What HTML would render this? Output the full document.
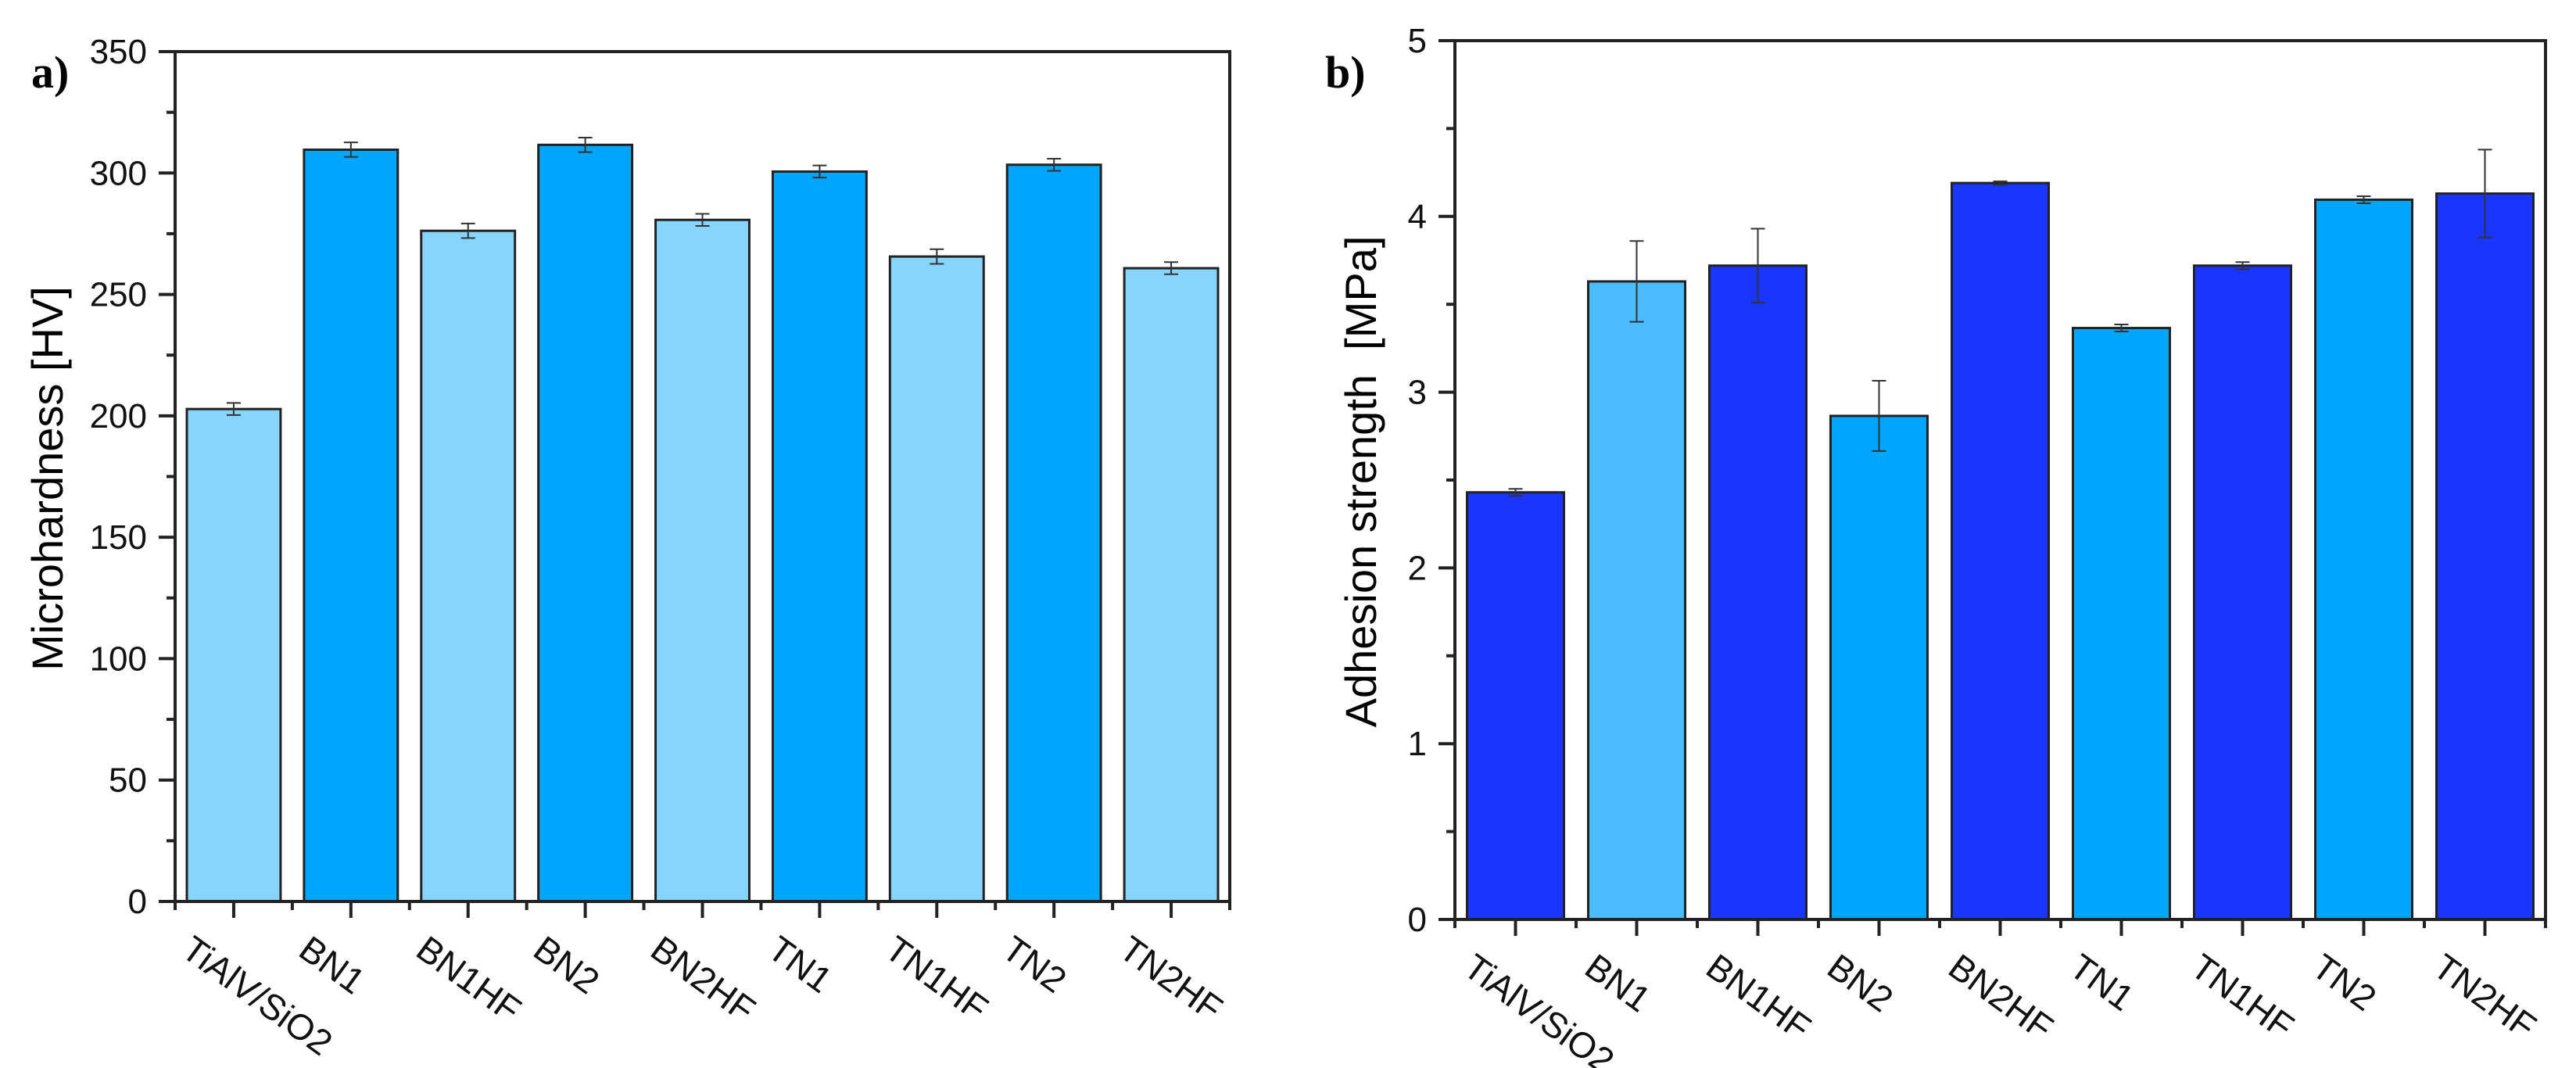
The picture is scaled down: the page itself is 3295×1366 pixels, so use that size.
<!DOCTYPE html>
<html><head><meta charset="utf-8"><style>
html,body{margin:0;padding:0;background:#fff;}
svg{display:block;font-family:"Liberation Sans",Arial,sans-serif;}
</style></head><body>
<svg id="fig" width="3295" height="1366" viewBox="0 0 3295 1366">
<text x="40" y="112" font-family="Liberation Serif" font-weight="bold" font-size="58">a)</text>
<text x="1695" y="112" font-family="Liberation Serif" font-weight="bold" font-size="58">b)</text>
<text transform="translate(80,612) rotate(-90)" text-anchor="middle" font-size="56">Microhardness [HV]</text>
<text transform="translate(1760,616) rotate(-90)" text-anchor="middle" font-size="56" xml:space="preserve">Adhesion strength  [MPa]</text>
<g id="chartA"></g>
<g id="chartB"></g>
</svg>
<script>
const categories = ["TiAlV/SiO2","BN1","BN1HF","BN2","BN2HF","TN1","TN1HF","TN2","TN2HF"];
const hardnessValues = [202.8, 309.6, 276.2, 311.6, 280.7, 300.6, 265.6, 303.4, 260.8];
const hardnessErrors = [2.5, 3, 3, 3, 2.5, 2.5, 3, 2.5, 2.5];
const hardnessTicks = [0, 50, 100, 150, 200, 250, 300, 350];
const adhesionValues = [2.43, 3.63, 3.72, 2.865, 4.19, 3.365, 3.72, 4.095, 4.13];
const adhesionErrors = [0.02, 0.23, 0.21, 0.2, 0.01, 0.02, 0.02, 0.02, 0.25];
const adhesionTicks = [0, 1, 2, 3, 4, 5];
const hardnessColors = ["#87d5fd","#00a5fd","#87d5fd","#00a5fd","#87d5fd","#00a5fd","#87d5fd","#00a5fd","#87d5fd"];
const adhesionColors = ["#1a35fd","#4bbcfd","#1a35fd","#00a5fd","#1a35fd","#00a5fd","#1a35fd","#00a5fd","#1a35fd"];

const NS = "http://www.w3.org/2000/svg";
function mk(parent, tag, attrs){
  const e = document.createElementNS(NS, tag);
  for (const k in attrs) e.setAttribute(k, attrs[k]);
  parent.appendChild(e);
  return e;
}
function drawChart(g, cfg){
  const {x0,x1,y0,y1,ymax,vals,errs,ticks,minorStep,colors,fmt} = cfg;
  const n = categories.length;
  const step = (x1-x0)/n;
  const xC = i => x0 + step*(i+0.5);
  const yS = v => y0 - (v/ymax)*(y0-y1);
  const bw = step*0.8;
  vals.forEach((v,i)=>{
    const r = mk(g,'rect',{x:xC(i)-bw/2,y:yS(v),width:bw,height:y0-yS(v),fill:colors[i],stroke:'#222',"stroke-width":3});
    
    
    const cx = xC(i), t = yS(v+errs[i]), b = yS(v-errs[i]);
    const eb = mk(g,'path',{d:`M${cx},${t}V${b}M${cx-9},${t}H${cx+9}M${cx-9},${b}H${cx+9}`,stroke:'#333',"stroke-width":2,fill:'none'});
    
    
  });
  const fr = mk(g,'rect',{x:x0,y:y1,width:x1-x0,height:y0-y1,fill:'none',stroke:'#222',"stroke-width":4});
  
  
  for (let v=0; v<=ymax+1e-9; v+=minorStep){
    const y = yS(v);
    const major = ticks.some(t=>Math.abs(t-v)<1e-9);
    const tk = mk(g,'line',{x1:x0-(major?21:11),x2:x0,y1:y,y2:y,stroke:'#222',"stroke-width":4});
    
    
  }
  ticks.forEach(v=>{
    const t = mk(g,'text',{x:x0-36,y:yS(v)+15,"text-anchor":'end',"font-size":44,fill:'#111'});
    t.textContent = fmt(v);
    
    
  });
  for (let i=0;i<=n;i++){
    const x = x0+step*i;
    const tk = mk(g,'line',{x1:x,x2:x,y1:y0,y2:y0+11,stroke:'#222',"stroke-width":4});
    
    
  }
  categories.forEach((c,i)=>{
    const x = xC(i);
    const tk = mk(g,'line',{x1:x,x2:x,y1:y0,y2:y0+21,stroke:'#222',"stroke-width":4});
    
    
    const tx = x-50, ty = y0+74;
    const t = mk(g,'text',{x:tx,y:ty,"font-size":46,fill:'#111',transform:`rotate(36 ${tx} ${ty-33})`});
    t.textContent = c;
    
    
  });
}
drawChart(document.getElementById('chartA'),{x0:224,x1:1573,y0:1153,y1:66,ymax:350,vals:hardnessValues,errs:hardnessErrors,ticks:hardnessTicks,minorStep:25,colors:hardnessColors,fmt:v=>String(v)});
drawChart(document.getElementById('chartB'),{x0:1861,x1:3256,y0:1176,y1:52,ymax:5,vals:adhesionValues,errs:adhesionErrors,ticks:adhesionTicks,minorStep:0.5,colors:adhesionColors,fmt:v=>String(v)});
</script>
</body></html>
